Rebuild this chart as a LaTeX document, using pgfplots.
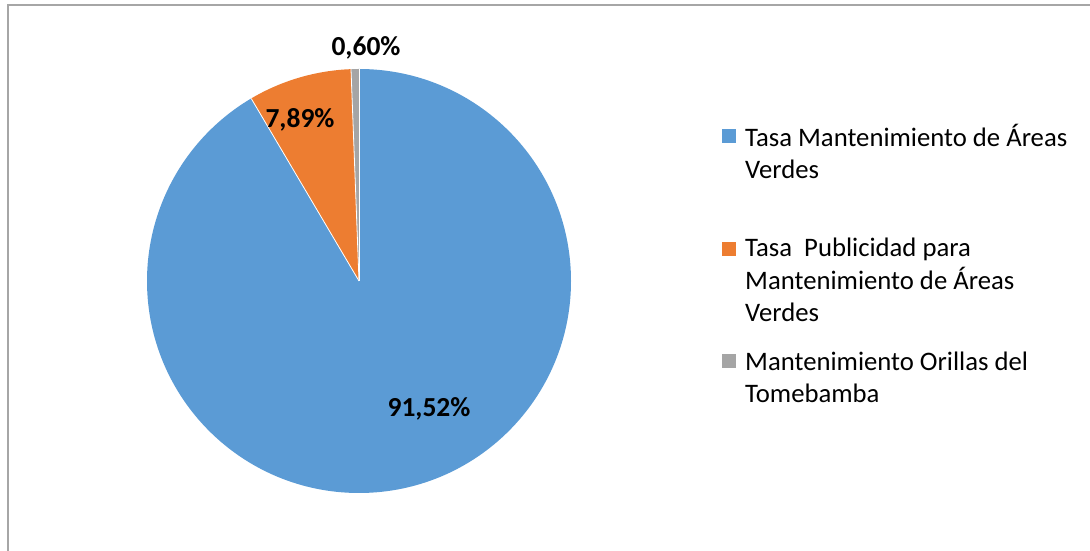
\documentclass[border=0pt]{standalone}
\usepackage{fontspec}
\setmainfont{Carlito}
\usepackage{pgfplots}
\usepackage{pgfplotstable}
\pgfplotsset{compat=1.18}
\definecolor{sblue}{HTML}{5B9BD5}
\definecolor{sorange}{HTML}{ED7D31}
\definecolor{sgray}{HTML}{A5A5A5}
\definecolor{frame}{HTML}{A6A6A6}
\pgfplotstableread{
value
91.52
7.89
0.60
}\piedata
\begin{document}
\begin{tikzpicture}
\pgfplotstablegetelem{0}{value}\of\piedata \pgfmathsetmacro{\va}{\pgfplotsretval}
\pgfplotstablegetelem{1}{value}\of\piedata \pgfmathsetmacro{\vb}{\pgfplotsretval}
\pgfplotstablegetelem{2}{value}\of\piedata \pgfmathsetmacro{\vc}{\pgfplotsretval}
\pgfmathsetmacro{\tot}{\va+\vb+\vc}
\pgfmathsetmacro{\aA}{90}
\pgfmathsetmacro{\aB}{90-\va/\tot*360}
\pgfmathsetmacro{\aC}{\aB-\vb/\tot*360}
\pgfmathsetmacro{\aD}{\aC-\vc/\tot*360}
\begin{axis}[
  scale only axis, width=1090pt, height=551pt,
  xmin=0, xmax=1090, ymin=0, ymax=551,
  axis lines=none, xtick=\empty, ytick=\empty,
  clip=false,
]
\draw[frame, line width=1.2pt] (axis cs:8,0) -- (axis cs:8,546) -- (axis cs:1090,546);
\fill[sblue] (axis cs:359,270) -- ++(\aA:212pt) arc[start angle=\aA, end angle=\aB, radius=212pt] -- cycle;
\fill[sorange] (axis cs:359,270) -- ++(\aB:212pt) arc[start angle=\aB, end angle=\aC, radius=212pt] -- cycle;
\fill[sgray] (axis cs:359,270) -- ++(\aC:212pt) arc[start angle=\aC, end angle=\aD, radius=212pt] -- cycle;
\draw[white, line width=0.8pt] (axis cs:359,270) -- ++(\aA:212pt);
\draw[white, line width=0.8pt] (axis cs:359,270) -- ++(\aB:212pt);
\draw[white, line width=0.8pt] (axis cs:359,270) -- ++(\aC:212pt);
\node[font=\fontsize{27.5}{33}\selectfont\bfseries] at (axis cs:366,503) {0,60\%};
\node[font=\fontsize{27.5}{33}\selectfont\bfseries] at (axis cs:300,431) {7,89\%};
\node[font=\fontsize{27.5}{33}\selectfont\bfseries] at (axis cs:429,142) {91,52\%};
\fill[sblue] (axis cs:722,408) rectangle (axis cs:736,422);
\fill[sorange] (axis cs:722,295) rectangle (axis cs:736,309);
\fill[sgray] (axis cs:722,183) rectangle (axis cs:736,197);
\node[anchor=west, align=left, inner sep=0pt, font=\fontsize{26.7}{32.5}\selectfont] at (axis cs:745,399.5) {Tasa Mantenimiento de Áreas\\Verdes};
\node[anchor=west, align=left, inner sep=0pt, font=\fontsize{26.7}{32.5}\selectfont] at (axis cs:745,271) {Tasa\ \ Publicidad para\\Mantenimiento de Áreas\\Verdes};
\node[anchor=west, align=left, inner sep=0pt, font=\fontsize{26.7}{32.5}\selectfont] at (axis cs:745,173.5) {Mantenimiento Orillas del\\Tomebamba};
\end{axis}
\pgfresetboundingbox
\useasboundingbox (current axis.south west) rectangle (current axis.north east);
\end{tikzpicture}
\end{document}
